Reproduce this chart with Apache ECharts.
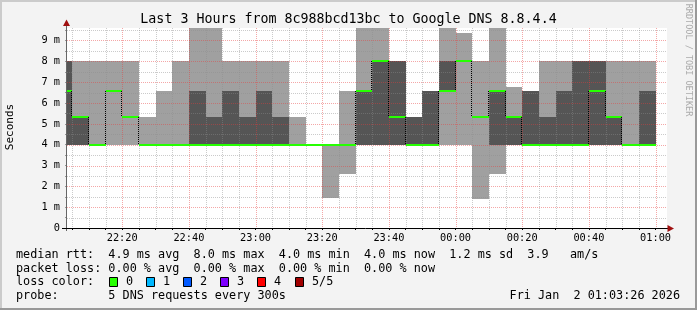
<!DOCTYPE html>
<html><head><meta charset="utf-8">
<script src="https://cdn.jsdelivr.net/npm/echarts@6/dist/echarts.min.js"></script>
<style>html,body{margin:0;padding:0;background:#f3f3f3}#c{width:697px;height:310px}</style>
</head><body><div id="c"></div>
<script>
// ---- data (end time of each 5-minute step, in ms) ----
const stepEnds = ['22:05','22:10','22:15','22:20','22:25','22:30','22:35','22:40','22:45','22:50','22:55','23:00',
  '23:05','23:10','23:15','23:20','23:25','23:30','23:35','23:40','23:45','23:50','23:55','00:00',
  '00:05','00:10','00:15','00:20','00:25','00:30','00:35','00:40','00:45','00:50','00:55','01:00'];
const ping1 = [4,4,4,4,4,4,4,4,4,4,4,4, 4,4,4,4,1.46,2.58,4,4,4,4,4,4, 4,1.38,2.58,4,4,4,4,4,4,4,4,4];
const ping2 = [4,4,4,6.6,5.33,4,4,4,4,4,4,4, 4,4,4,4,4,4,4,4,4,4,4,6.6, 8,5.33,4,4,4,4,4,4,4,4,4,4];
const median = [6.6,5.33,4,6.6,5.33,4,4,4,4,4,4,4, 4,4,4,4,4,4,6.6,8,5.33,4,4,6.6, 8,5.33,6.6,5.33,4,4,4,4,6.6,5.33,4,4];
const ping4 = [8,5.33,4,6.6,5.33,4,4,4,6.6,5.33,6.6,5.33, 6.6,5.33,4,4,4,4,6.6,8,8,5.33,6.6,8, 8,5.33,6.6,5.33,6.6,5.33,6.6,8,8,5.33,4,6.6];
const ping5 = [8,8,8,8,8,5.33,6.6,8,9.6,9.6,8,8, 8,8,5.33,4,4,6.6,9.6,9.6,8,5.33,6.6,9.6, 9.35,8,9.6,6.75,6.6,8,8,8,8,8,8,8];
const xLabels = ['22:20','22:40','23:00','23:20','23:40','00:00','00:20','00:40','01:00'];
const yLabels = [0,1,2,3,4,5,6,7,8,9];
const startTime = '22:03:26', endTime = '01:03:26';
const lossLabels = ['0','1','2','3','4','5/5'];
const lossColors = ['#26ff00','#00b8ff','#0059ff','#7e00ff','#ff0000','#a10000'];

function toMin(s){ const p = s.split(':').map(Number); let h = p[0]; if (h < 12) h += 24; return h*60 + p[1] + (p[2]||0)/60; }
function fmt(m){ let h = Math.floor(m/60) % 24, mm = Math.round(m % 60); return String(h).padStart(2,'0') + ':' + String(mm).padStart(2,'0'); }
const T = stepEnds.map(toMin);
const X_MIN = toMin(startTime), X_MAX = toMin(endTime);
const Y_MAX = 9.6;
const LIGHT = '#a0a0a0', DARK = '#555555', MED = '#26ff00';
const MONO = 'DejaVu Sans Mono';

const minorTicks = []; for (let m = 1325; m <= 1500; m += 5) minorTicks.push(m);
const halfTicks = []; for (let v = 0; v <= 9.5; v += 0.5) halfTicks.push(v);

function stepX(api, i){
  const t = T[i], t0 = Math.max(t - 5, X_MIN);
  return [Math.round(api.coord([t0, 0])[0]), Math.round(api.coord([t, 0])[0])];
}

const chart = echarts.init(document.getElementById('c'));
chart.setOption({
  animation: false,
  backgroundColor: '#f3f3f3',
  title: { text: 'Last 3 Hours from 8c988bcd13bc to Google DNS 8.8.4.4', left: 'center', top: 8,
    textStyle: { fontFamily: MONO, fontSize: 13.3, fontWeight: 'normal', color: '#000' } },
  grid: { left: 67, top: 28, width: 600, height: 200, show: true, backgroundColor: '#ffffff', borderWidth: 0 },
  xAxis: { type: 'value', min: X_MIN, max: X_MAX,
    axisLine: { show: false },
    axisTick: { show: true, customValues: minorTicks, length: 2, lineStyle: { color: '#000' } },
    axisLabel: { customValues: xLabels.map(toMin), formatter: v => fmt(v), margin: 5,
      fontFamily: MONO, fontSize: 10.3, color: '#000' },
    splitLine: { show: false } },
  yAxis: { type: 'value', min: 0, max: Y_MAX,
    axisLine: { show: false },
    axisTick: { show: true, customValues: halfTicks, length: 2, lineStyle: { color: '#999' } },
    axisLabel: { customValues: yLabels, formatter: v => v === 0 ? '0' : v + ' m', margin: 7,
      fontFamily: MONO, fontSize: 10.3, color: '#000' },
    splitLine: { show: false } },
  series: [
    { type: 'custom', z: 2, data: T.map((t, i) => [t, ping1[i], ping5[i]]), encode: { x: 0, y: [1, 2] },
      renderItem(params, api){
        const i = params.dataIndex, [xa, xb] = stepX(api, i);
        const Y = v => Math.round(api.coord([T[i], v])[1]);
        const ch = [];
        const band = (lo, hi, fill) => { if (hi > lo) ch.push({ type: 'rect', shape: { x: xa, y: Y(hi), width: xb - xa, height: Y(lo) - Y(hi) }, style: { fill } }); };
        band(ping1[i], ping5[i], LIGHT);
        band(ping2[i], ping4[i], DARK);
        return { type: 'group', children: ch };
      } },
    { type: 'custom', z: 3, data: [0], silent: true,
      renderItem(params, api){
        const cs = params.coordSys, ch = [];
        const x0 = cs.x, x1 = cs.x + cs.width, y0 = cs.y, y1 = cs.y + cs.height;
        halfTicks.forEach(v => { if (v === 0) return; const y = Math.round(api.coord([X_MIN, v])[1]) + 0.5;
          ch.push({ type: 'line', shape: { x1: x0, y1: y, x2: x1, y2: y },
            style: { stroke: Number.isInteger(v) ? 'rgba(230,60,60,0.45)' : 'rgba(140,140,140,0.45)', lineWidth: 1, lineDash: [1, 1] } }); });
        minorTicks.forEach(m => { const x = Math.round(api.coord([m, 0])[0]) + 0.5;
          ch.push({ type: 'line', shape: { x1: x, y1: y0, x2: x, y2: y1 },
            style: { stroke: (m % 20 === 0) ? 'rgba(230,60,60,0.45)' : 'rgba(140,140,140,0.45)', lineWidth: 1, lineDash: [1, 1] } }); });
        return { type: 'group', children: ch };
      } },
    { type: 'custom', z: 4, data: T.map((t, i) => [t, median[i]]), encode: { x: 0, y: 1 },
      renderItem(params, api){
        const i = params.dataIndex, [xa, xb] = stepX(api, i);
        const Y = v => Math.round(api.coord([T[i], v])[1]);
        const ch = [];
        const ym = Y(median[i]);
        if (i > 0 && median[i-1] !== median[i]) {
          const yp = Y(median[i-1]);
          ch.push({ type: 'line', shape: { x1: xa - 0.5, y1: Math.min(yp, ym), x2: xa - 0.5, y2: Math.max(yp, ym) },
            style: { stroke: '#000', lineWidth: 1, lineDash: [1, 1] } });
        }
        ch.push({ type: 'rect', shape: { x: xa, y: ym - 1, width: xb - xa, height: 2 }, style: { fill: MED } });
        return { type: 'group', children: ch };
      } }
  ],
  graphic: [
    { type: 'rect', shape: { x: 0, y: 0, width: 697, height: 2 }, style: { fill: '#cbcbcb' } },
    { type: 'rect', shape: { x: 0, y: 0, width: 2, height: 310 }, style: { fill: '#cbcbcb' } },
    { type: 'rect', shape: { x: 695, y: 0, width: 2, height: 310 }, style: { fill: '#999999' } },
    { type: 'rect', shape: { x: 0, y: 308, width: 697, height: 2 }, style: { fill: '#999999' } },
    // axes
    { type: 'line', z: 10, shape: { x1: 66.5, y1: 231, x2: 66.5, y2: 24 }, style: { stroke: '#666', lineWidth: 1 } },
    { type: 'line', z: 10, shape: { x1: 62, y1: 228.5, x2: 669, y2: 228.5 }, style: { stroke: '#000', lineWidth: 1 } },
    { type: 'polygon', z: 11, shape: { points: [[66.5, 19.5], [63, 26], [70, 26]] }, style: { fill: '#a01010' } },
    { type: 'polygon', z: 11, shape: { points: [[674, 228.5], [667.5, 225], [667.5, 232]] }, style: { fill: '#a01010' } },
    // side texts
    { type: 'text', x: 10, y: 127, rotation: Math.PI / 2,
      style: { text: 'Seconds', fontFamily: MONO, fontSize: 11, fill: '#000', align: 'center', verticalAlign: 'middle' } },
    { type: 'text', x: 688, y: 60, rotation: -Math.PI / 2,
      style: { text: 'RRDTOOL / TOBI OETIKER', fontFamily: MONO, fontSize: 8.5, fill: '#aaaaaa', align: 'center', verticalAlign: 'middle' } },
    // legend lines
    { type: 'text', x: 16, y: 255, style: { text: 'median rtt:  4.9 ms avg  8.0 ms max  4.0 ms min  4.0 ms now  1.2 ms sd  3.9   am/s',
      fontFamily: MONO, fontSize: 11.8, fill: '#000', verticalAlign: 'middle' } },
    { type: 'text', x: 16, y: 268.5, style: { text: 'packet loss: 0.00 % avg  0.00 % max  0.00 % min  0.00 % now',
      fontFamily: MONO, fontSize: 11.8, fill: '#000', verticalAlign: 'middle' } },
    { type: 'text', x: 16, y: 282, style: { text: 'loss color:', fontFamily: MONO, fontSize: 11.8, fill: '#000', verticalAlign: 'middle' } },
    { type: 'text', x: 16, y: 296, style: { text: 'probe:       5 DNS requests every 300s', fontFamily: MONO, fontSize: 11.8, fill: '#000', verticalAlign: 'middle' } },
    { type: 'text', x: 680, y: 296, style: { text: 'Fri Jan  2 01:03:26 2026', fontFamily: MONO, fontSize: 11.8, fill: '#000', align: 'right', verticalAlign: 'middle' } }
  ].concat(lossLabels.flatMap((lab, k) => {
    const bx = 108.5 + k * 37.2;
    return [
      { type: 'rect', shape: { x: Math.round(bx) + 0.5, y: 277.5, width: 8, height: 9 }, style: { fill: lossColors[k], stroke: '#000', lineWidth: 1 } },
      { type: 'text', x: Math.round(bx) + 17, y: 282, style: { text: lab, fontFamily: MONO, fontSize: 11.8, fill: '#000', verticalAlign: 'middle' } }
    ];
  }))
});
</script></body></html>
